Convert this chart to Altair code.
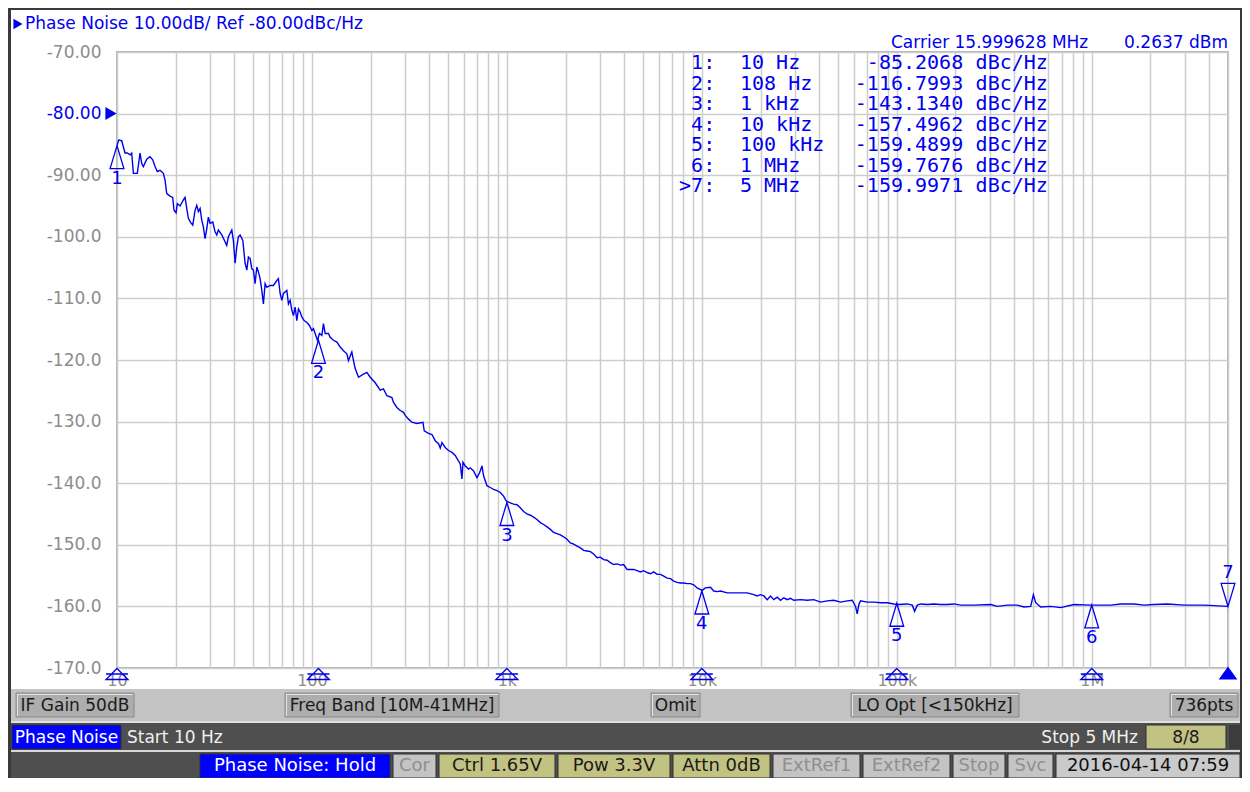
import altair as alt
import pandas as pd

# ---------------- data ----------------
freq_hz = [
    10, 10.2, 10.57, 10.99, 11.30, 11.66, 11.90, 12.13, 12.71, 13.13, 13.39, 13.65, 14.21, 14.77,
    15.25, 15.67, 16.10, 16.62, 17.29, 17.64, 17.99, 18.71, 19.31, 19.61, 20.09, 20.39, 21.06,
    21.90, 22.34, 22.79, 23.23, 23.89, 24.47, 25.14, 25.65, 26.15, 26.68, 27.22, 27.73, 28.29,
    28.87, 29.42, 30.02, 31.00, 31.85, 32.49, 33.11, 34.47, 35.84, 36.56, 37.27, 38.80, 39.54,
    40.34, 41.17, 41.95, 42.80, 44.19, 45.41, 46.33, 47.21, 48.17, 49.15, 50.08, 51.10, 52.14,
    53.13, 54.21, 55.31, 56.36, 57.51, 58.68, 61.01, 63.44, 66.03, 67.30, 68.68, 70.07, 71.41,
    74.34, 75.76, 77.29, 78.86, 80.36, 81.99, 83.66, 85.25, 86.98, 88.76, 91.20, 94.16, 97.10,
    99.89, 101.8, 103.8, 106.7, 109.3, 112.4, 114.6, 116.9, 121.5, 124.0, 128.9, 134.3, 139.6,
    145.1, 151.1, 153.9, 160.2, 163.3, 166.7, 173.3, 183.8, 191.3, 199.0, 211.1,
    223.9, 232.8, 242.4, 257.1, 262.0, 272.8, 283.7, 294.9, 300.9, 312.9, 325.7, 345.5, 371.0,
    376.7, 396.3, 412.6, 429.0, 446.1, 455.1, 464.3, 482.8, 502.0, 522.6, 543.4, 565.0, 576.5,
    588.2, 595.2, 611.6, 636.0, 648.9, 674.5, 702.2, 724.1, 745.0, 759.2, 790.4, 821.8, 854.5,
    889.6, 925.0, 961.7, 993.0, 1041, 1082, 1127, 1172, 1218, 1268, 1319, 1371, 1427, 1484,
    1543, 1607, 1670, 1737, 1808, 1880, 1954, 2035, 2116, 2200, 2290, 2382, 2476, 2578, 2681,
    2786, 2901, 3016, 3136, 3265, 3395, 3529, 3675, 3820, 3972, 4135, 4300, 4471, 4655, 4838,
    5031, 5239, 5446, 5664, 5896, 6131, 6375, 6635, 6900, 7173, 7468, 7765, 8074, 8405, 8740,
    9087, 9460, 10035, 10435, 11070, 11510, 11980, 12460, 13490, 14580, 15790, 17080, 18470,
    19220, 19990,
    20790, 21640, 22500, 23390, 24360, 25320, 26330, 27410, 28500, 29630, 32080, 34720, 37530,
    40630, 43980, 47540, 51460, 55700, 59100, 61430, 62680, 63870, 65170, 70560, 76270, 82580,
    89400, 96630, 102500, 113200, 120100, 123400, 127400, 132500, 143400, 155000, 167800,
    181600, 196400, 212600, 248800, 303000, 328100, 369200, 415600, 449300, 486300, 502000,
    515900, 547300, 615900, 693300, 811300, 988300, 1252000, 1409000, 1650000, 1857000,
    2089000, 2448000, 2979000, 3773000, 5000000,
]
phase_noise_dbc = [
    -85.2, -84.3, -84.4, -86.4, -86.4, -86.7, -86.4, -89.7, -89.7, -86.4, -88.1, -88.6, -87.4, -87.0,
    -87.5, -88.6, -89.4, -89.2, -89.7, -90.8, -93.0, -93.4, -93.6, -95.7, -96.1, -94.6, -95.0,
    -94.0, -93.6, -95.4, -97.0, -97.7, -98.1, -95.7, -94.9, -95.9, -95.4, -97.3, -98.4, -100.3,
    -98.7, -96.8, -97.8, -97.6, -99.2, -99.7, -98.9, -99.7, -100.8, -101.4, -100.0, -98.9, -100.6,
    -104.3, -101.6, -100.0, -99.7, -100.6, -104.3, -105.4, -103.3, -103.5, -105.2, -105.4, -107.6, -104.9,
    -105.7, -106.8, -108.7, -110.9, -107.6, -108.2, -107.9, -107.9, -107.1, -106.8, -109.2, -110.3, -109.2,
    -108.7, -110.9, -110.3, -111.9, -112.8, -111.4, -113.6, -111.7, -112.2, -113.0, -113.6, -113.9, -114.4,
    -115.2, -114.9, -115.7, -116.8, -115.7, -116.0, -114.1, -115.7, -115.7, -116.3, -116.8, -117.1, -117.9,
    -118.5, -119.0, -120.1, -118.7, -120.1, -121.4, -122.8, -122.3, -122.0, -122.8, -123.7,
    -124.9, -124.7, -125.8, -126.1, -126.9, -127.7, -128.2, -128.5, -129.0, -129.6, -130.1, -130.3, -130.1,
    -131.5, -131.9, -132.1, -133.1, -133.6, -134.3, -133.4, -134.2, -134.7, -135.0, -135.5, -136.4, -136.9,
    -139.3, -136.6, -137.2, -137.7, -137.5, -138.0, -139.1, -138.3, -137.2, -138.8, -140.4, -140.7, -141.0,
    -141.2, -141.5, -142.1, -142.9, -143.2, -143.4, -143.5, -144.0, -144.6, -145.0, -145.2, -145.5, -145.9, -146.4,
    -146.7, -147.1, -147.5, -148.0, -148.2, -148.4, -148.7, -149.1, -149.7, -149.9, -150.2, -150.5, -150.9, -151.0, -151.1,
    -151.5, -152.1, -152.0, -152.4, -152.5, -152.9, -153.2, -153.1, -153.3, -153.2, -154.0, -154.0, -154.0, -154.2, -154.4,
    -154.2, -154.5, -154.7, -154.4, -154.8, -154.8, -155.1, -155.4, -155.5, -155.9, -156.1, -156.2, -156.2, -156.3, -156.3,
    -156.5, -157.0, -157.4, -157.0, -156.9, -157.5, -157.6, -157.5, -157.8, -157.8, -157.8, -157.8, -158.1,
    -158.3, -158.1,
    -158.3, -158.9, -158.3, -158.9, -158.5, -159.0, -158.6, -158.9, -158.7, -159.0, -158.9, -159.0, -158.9,
    -159.3, -159.1, -159.0, -159.3, -159.1, -159.0, -160.0, -161.2, -159.7, -159.1, -159.3, -159.3, -159.4,
    -159.4, -159.6, -159.7, -159.6, -159.8, -160.8, -159.8, -159.6, -159.7, -159.6, -159.7,
    -159.7, -159.6, -159.8, -159.8, -159.7, -160.0, -159.8, -159.8, -160.1, -160.0, -158.1,
    -159.4, -160.1, -160.0, -160.2, -159.7, -159.8, -159.8, -159.6, -159.6, -159.8,
    -159.7, -159.6, -159.8, -159.8, -160.0,
]

marker_ids = ["1", "2", "3", "4", "5", "6", "7"]
marker_row_labels = ["1:", "2:", "3:", "4:", "5:", "6:", ">7:"]
marker_freq = [10, 108, 1000, 10000, 100000, 1000000, 5000000]
marker_dbc = [-85.2068, -116.7993, -143.1340, -157.4962, -159.4899, -159.7676, -159.9971]
marker_freq_text = ["10 Hz", "108 Hz", "1 kHz", "10 kHz", "100 kHz", "1 MHz", "5 MHz"]
marker_value_text = ["-85.2068", "-116.7993", "-143.1340", "-157.4962", "-159.4899", "-159.7676", "-159.9971"]
marker_unit = "dBc/Hz"

ref_level = [-80]
y_ticks = [-170, -160, -150, -140, -130, -120, -110, -100, -90, -80, -70]
decade_ticks = [10, 100, 1000, 10000, 100000, 1000000]
decade_labels = ["10", "100", "1k", "10k", "100k", "1M"]
grid_freqs = [m * d for d in decade_ticks for m in range(1, 10)]
grid_freqs = [f for f in grid_freqs if f <= 5000000]

title_text = "Phase Noise 10.00dB/ Ref -80.00dBc/Hz"
carrier_text = "Carrier 15.999628 MHz"
power_text = "0.2637 dBm"

# ---------------- tables ----------------
trace = pd.DataFrame({"freq": freq_hz, "dbc": phase_noise_dbc})
marks = pd.DataFrame({"freq": marker_freq, "dbc": marker_dbc, "id": marker_ids})
marks_16 = marks.iloc[:6]
marks_7 = marks.iloc[6:]
ref_df = pd.DataFrame({"dbc": ref_level})
one = pd.DataFrame({"k": [0]})

# ---------------- styling ----------------
SANS = "DejaVu Sans"
MONO = "DejaVu Sans Mono"
BLUE = "#0000f0"
GRAY_TXT = "#8c8c8c"
PX0, PY0 = 117, 52  # page position of plot origin

xs = alt.Scale(type="log", domain=[10, 5000000], nice=False)
ys = alt.Scale(domain=[-170, -70], nice=False)

x_label_expr = " : ".join(
    f"datum.value == {v} ? '{l}'" for v, l in zip(decade_ticks, decade_labels)
) + " : ''"

x_axis = alt.Axis(
    values=grid_freqs, labelExpr=x_label_expr, grid=True, gridColor="#cdcdcd", gridWidth=1.5,
    ticks=False, domain=False, labelFont=SANS, labelFontSize=16, labelColor=GRAY_TXT,
    labelPadding=4, labelFlush=False, labelOverlap=False, title=None,
)
y_axis = alt.Axis(
    values=y_ticks,
    labelExpr="datum.value > -100 ? '-' + format(-datum.value, '.2f') : '-' + format(-datum.value, '.1f')",
    grid=True, gridColor="#cdcdcd", gridWidth=1.5, ticks=False, domain=False,
    labelFont=SANS, labelFontSize=17, labelPadding=16, labelFlush=False, labelOverlap=False,
    labelColor=alt.condition("datum.value == -80", alt.value(BLUE), alt.value(GRAY_TXT)),
    title=None,
)


def X():
    return alt.X("freq:Q", scale=xs, axis=x_axis)


def Y():
    return alt.Y("dbc:Q", scale=ys, axis=y_axis)


def box(x0, y0, x1, y1, fill, stroke="", sw=1.0):
    kw = {"fill": fill}
    if stroke:
        kw["stroke"] = stroke
        kw["strokeWidth"] = sw
    return alt.Chart(one).mark_rect(**kw).encode(
        x=alt.value(x0 - PX0), x2=alt.value(x1 - PX0),
        y=alt.value(y0 - PY0), y2=alt.value(y1 - PY0),
    )


def label(s, x, y, color, size, align="left", font=SANS):
    return alt.Chart(one).mark_text(
        text=s, align=align, baseline="middle", fontSize=size, font=font, color=color
    ).encode(x=alt.value(x - PX0), y=alt.value(y - PY0))


def button(x0, y0, x1, y1, s, fill="#adadad", color="#1a1a1a", size=17):
    return [
        box(x0, y0, x1, y1, fill, "#8a8a8a", 1.0),
        box(x0 + 1, y0 + 1, x1 - 1, y0 + 2, "#e4e4e4"),
        box(x0 + 1, y0 + 1, x0 + 2, y1 - 1, "#e4e4e4"),
        label(s, (x0 + x1) / 2, (y0 + y1) / 2 + 1, color, size, align="center"),
    ]


layers = []

BOTTOM = 778  # last page row drawn by the chart

# window frame / bottom bars
layers += [
    box(8, 8, 11, BOTTOM, "#3a3a3a"),
    box(8, 8, 1242, 10, "#3a3a3a"),
    box(1240, 8, 1242, BOTTOM, "#3a3a3a"),
    box(11, 689, 1240, 721, "#c3c3c3"),
    box(11, 721, 1240, 723, "#e0e0e0"),
    box(11, 723, 1240, 750, "#4f4f4f"),
    box(11, 750, 1240, 752, "#d8d8d8"),
    box(11, 752, 1240, BOTTOM, "#4f4f4f"),
]
layers += button(16, 693, 134, 717, "IF Gain 50dB")
layers += button(285, 693, 499, 717, "Freq Band [10M-41MHz]")
layers += button(651, 693, 700, 717, "Omit")
layers += button(851, 693, 1019, 717, "LO Opt [<150kHz]")
layers += button(1170, 693, 1238, 717, "736pts")

# status line
layers += [
    box(12, 725, 121, 749, "#0000ff", "#303030", 1),
    label("Phase Noise", 66.5, 737.5, "#ffffff", 17, align="center"),
    label("Start 10 Hz", 127, 737.5, "#f0f0f0", 17),
    label("Stop 5 MHz", 1138, 737.5, "#f0f0f0", 17, align="right"),
    box(1146, 725, 1226, 749, "#c2c283", "#303030", 1),
    label("8/8", 1186, 737.5, "#1a1a1a", 17, align="center"),
    box(1229, 725, 1240, 749, "#3c3c3c"),
]

# bottom indicator row
ind = [
    (200, 390, "Phase Noise: Hold", "#0000ff", "#ffffff"),
    (393, 436, "Cor", "#c4c4c4", "#8f8f8f"),
    (439, 555, "Ctrl  1.65V", "#c2c283", "#1a1a1a"),
    (558, 670, "Pow  3.3V", "#c2c283", "#1a1a1a"),
    (673, 770, "Attn 0dB", "#c2c283", "#1a1a1a"),
    (773, 860, "ExtRef1", "#c4c4c4", "#8f8f8f"),
    (863, 950, "ExtRef2", "#c4c4c4", "#8f8f8f"),
    (953, 1005, "Stop", "#c4c4c4", "#8f8f8f"),
    (1008, 1053, "Svc", "#c4c4c4", "#8f8f8f"),
    (1056, 1240, "2016-04-14 07:59", "#cacaca", "#101010"),
]
for x0, x1, s, fill, col in ind:
    layers.append(box(x0, 754, x1, BOTTOM, fill, "#303030", 1))
    layers.append(label(s, (x0 + x1) / 2, 766, col, 18, align="center"))

# trace with axes and grid
trace_layer = alt.Chart(trace).mark_line(color=BLUE, strokeWidth=1.4, clip=True).encode(x=X(), y=Y())
layers.append(trace_layer)

# markers on the trace
UP = "M0,-1 L0.6,1 L-0.6,1 Z"
DOWN = "M0,1 L0.6,-1 L-0.6,-1 Z"
BOT = "M0,-0.5 L1,0.5 L-1,0.5 Z M-1,0 L1,0"
layers += [
    alt.Chart(marks_16).mark_point(shape=UP, filled=False, color=BLUE, strokeWidth=1.3,
                                   size=529, yOffset=11.5, opacity=1).encode(x=X(), y=Y()),
    alt.Chart(marks_7).mark_point(shape=DOWN, filled=False, color=BLUE, strokeWidth=1.3,
                                  size=529, yOffset=-11.5, opacity=1).encode(x=X(), y=Y()),
    alt.Chart(marks_16).mark_text(font=SANS, fontSize=18, color=BLUE, dy=33, baseline="middle").encode(
        x=X(), y=Y(), text="id:N"),
    alt.Chart(marks_7).mark_text(font=SANS, fontSize=18, color=BLUE, dy=-33, baseline="middle").encode(
        x=X(), y=Y(), text="id:N"),
    # marker position flags on the frequency axis
    alt.Chart(marks_16).mark_point(shape=BOT, filled=False, color=BLUE, strokeWidth=1.3,
                                   size=484, opacity=1).encode(x=X(), y=alt.value(622)),
    alt.Chart(marks_7).mark_point(shape="M0,-0.6 L0.85,0.6 L-0.85,0.6 Z", filled=True, color=BLUE,
                                  size=484, opacity=1).encode(x=X(), y=alt.value(621)),
    # reference level arrow
    alt.Chart(ref_df).mark_point(shape="triangle-right", filled=True, color=BLUE, size=170,
                                 opacity=1).encode(x=alt.value(-6), y=Y()),
]

# header texts
layers += [
    alt.Chart(one).mark_point(shape="triangle-right", filled=True, color=BLUE, size=110, opacity=1).encode(
        x=alt.value(18 - PX0), y=alt.value(24 - PY0)),
    label(title_text, 25, 24, BLUE, 17),
    label(carrier_text, 891, 43, BLUE, 17),
    label(power_text, 1228, 43, BLUE, 17, align="right"),
]

# marker table (monospace)
T0 = 678
CH = 12.4
row_y = 63 - 10
layers += [
    alt.Chart(one).mark_text(text=marker_row_labels, align="right", baseline="top", lineHeight=20.5,
                             font=MONO, fontSize=20, color=BLUE).encode(
        x=alt.value(T0 + 3 * CH - PX0), y=alt.value(row_y - PY0)),
    alt.Chart(one).mark_text(text=marker_freq_text, align="left", baseline="top", lineHeight=20.5,
                             font=MONO, fontSize=20, color=BLUE).encode(
        x=alt.value(T0 + 5 * CH - PX0), y=alt.value(row_y - PY0)),
    alt.Chart(one).mark_text(text=marker_value_text, align="right", baseline="top", lineHeight=20.5,
                             font=MONO, fontSize=20, color=BLUE).encode(
        x=alt.value(T0 + 23 * CH - PX0), y=alt.value(row_y - PY0)),
    alt.Chart(one).mark_text(text=[marker_unit] * 7, align="left", baseline="top", lineHeight=20.5,
                             font=MONO, fontSize=20, color=BLUE).encode(
        x=alt.value(T0 + 24 * CH - PX0), y=alt.value(row_y - PY0)),
]

chart = alt.layer(*layers).properties(
    width=1111, height=616,
    padding={"left": 109, "top": 44, "right": 14, "bottom": BOTTOM - 8 - 44 - 616},
    autosize=alt.AutoSizeParams(type="none"),
    background="#ffffff",
).configure_view(stroke="#9a9a9a", strokeWidth=1.5)

chart.save("out.html", embed_options={"renderer": "svg", "actions": False})
